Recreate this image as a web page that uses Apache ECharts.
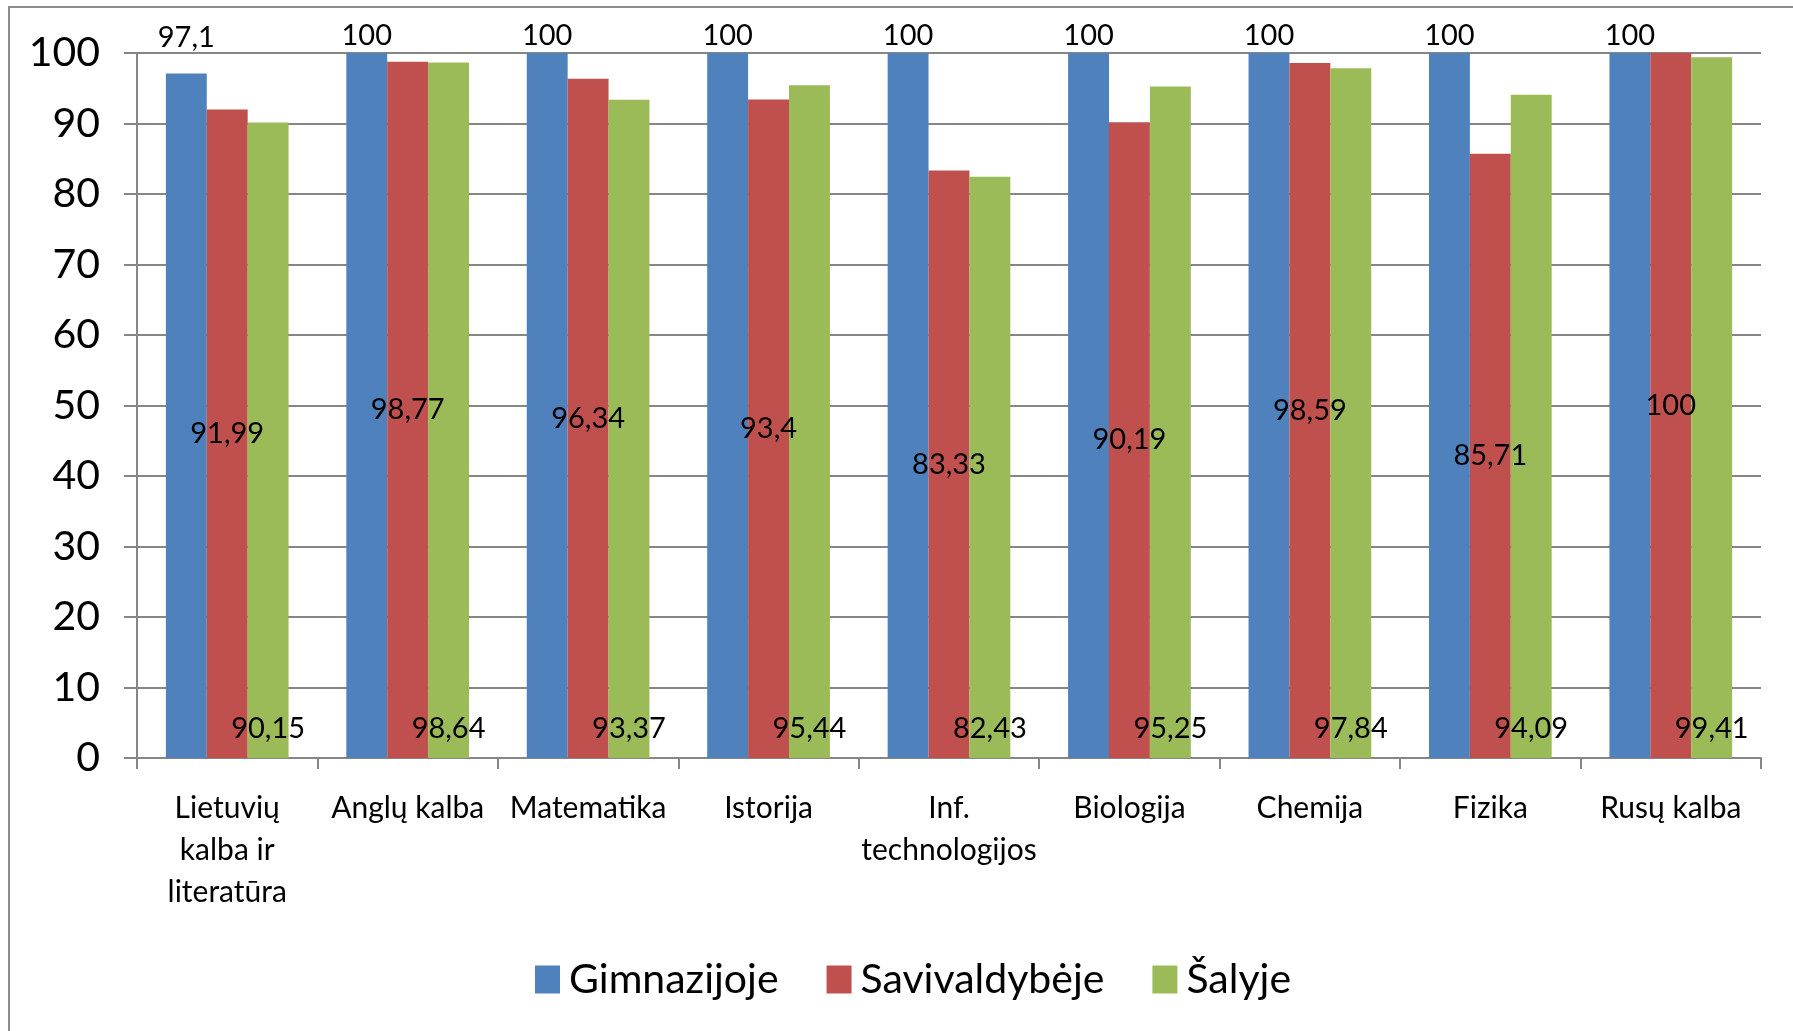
<!DOCTYPE html>
<html>
<head>
<meta charset="utf-8">
<script src="https://cdn.jsdelivr.net/npm/echarts@6/dist/echarts.min.js"></script>
<style>
html,body{margin:0;padding:0;background:#fff;}
#c{width:1793px;height:1031px;}
</style>
</head>
<body>
<div id="c"></div>
<script>
const categories = ["Lietuvių\nkalba ir\nliteratūra", "Anglų kalba", "Matematika", "Istorija", "Inf.\ntechnologijos", "Biologija", "Chemija", "Fizika", "Rusų kalba"];
const seriesNames = ["Gimnazijoje", "Savivaldybėje", "Šalyje"];
const gimnazijoje = [97.1, 100, 100, 100, 100, 100, 100, 100, 100];
const savivaldybeje = [91.99, 98.77, 96.34, 93.4, 83.33, 90.19, 98.59, 85.71, 100];
const salyje = [90.15, 98.64, 93.37, 95.44, 82.43, 95.25, 97.84, 94.09, 99.41];
const yTicks = [0, 10, 20, 30, 40, 50, 60, 70, 80, 90, 100];

const FONT = 'Lato';
const fmt = p => String(p.value).replace('.', ',');
const chart = echarts.init(document.getElementById('c'));
const labelBase = {show: true, color: '#000', fontFamily: FONT, fontSize: 29, formatter: fmt};
// Excel keeps all top labels of the first series on one row under the chart top
const blueData = gimnazijoje.map(v => v < 100 ? {value: v, label: {offset: [0, -18]}} : v);
chart.setOption({
  animation: false,
  textStyle: {fontFamily: FONT},
  graphic: [{
    type: 'rect', shape: {x: 9, y: 7, width: 1800, height: 1040},
    style: {fill: 'none', stroke: '#8c8c8c', lineWidth: 2}, silent: true, z: -1
  }],
  grid: {left: 137, right: 32, top: 53, bottom: 273},
  legend: {
    bottom: 26, left: 530,
    itemWidth: 25, itemHeight: 28, itemGap: 48,
    icon: 'rect',
    textStyle: {fontFamily: FONT, fontSize: 41, color: '#000', padding: [0, 0, 0, 4]},
    data: seriesNames
  },
  xAxis: {
    type: 'category', data: categories,
    axisLine: {lineStyle: {color: '#868686', width: 2}},
    axisTick: {show: true, alignWithLabel: false, length: 11, lineStyle: {color: '#868686', width: 2}},
    axisLabel: {color: '#000', fontFamily: FONT, fontSize: 30, lineHeight: 42, margin: 29, interval: 0}
  },
  yAxis: {
    type: 'value', min: 0, max: 100, interval: 10,
    axisLine: {show: true, lineStyle: {color: '#868686', width: 2}},
    axisTick: {show: true, length: 13, lineStyle: {color: '#868686', width: 2}},
    splitLine: {lineStyle: {color: '#868686', width: 2}},
    axisLabel: {color: '#000', fontFamily: FONT, fontSize: 41, margin: 37,
      formatter: v => yTicks.includes(v) ? String(v) : ''}
  },
  series: [
    {name: seriesNames[0], type: 'bar', data: blueData, barGap: '0%', barCategoryGap: '32%',
      itemStyle: {color: '#4F81BD'},
      label: Object.assign({}, labelBase, {position: 'top', distance: 3})},
    {name: seriesNames[1], type: 'bar', data: savivaldybeje,
      itemStyle: {color: '#C0504D'},
      label: Object.assign({}, labelBase, {position: 'inside'})},
    {name: seriesNames[2], type: 'bar', data: salyje,
      itemStyle: {color: '#9BBB59'},
      label: Object.assign({}, labelBase, {position: 'insideBottom', distance: 15})}
  ]
});
</script>
</body>
</html>
